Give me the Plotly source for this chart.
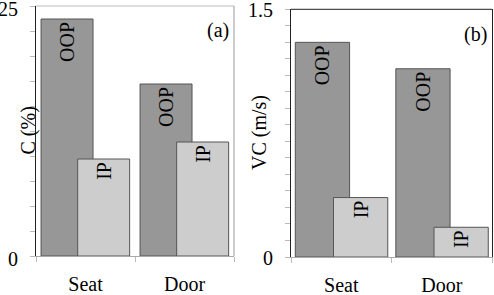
import plotly.graph_objects as go

categories = ["Seat", "Door"]
c_oop = [23.7, 17.2]
c_ip = [9.7, 11.4]
vc_oop = [1.30, 1.14]
vc_ip = [0.36, 0.18]
series_names = ["OOP", "IP"]

FONT = "Liberation Serif, Times New Roman, serif"
OOP_COLOR = "#979797"
IP_COLOR = "#cdcdcd"
EDGE = "#555555"

fig = go.Figure()


def bar_font():
    return dict(family=FONT, size=20, color="black")


def add_bars(xa, ya, oop, ip, w, off_oop, off_ip):
    for vals, name, color, off in ((oop, series_names[0], OOP_COLOR, off_oop),
                                   (ip, series_names[1], IP_COLOR, off_ip)):
        fig.add_trace(go.Bar(
            x=categories, y=vals, name=name, text=[name] * len(vals),
            textposition="inside", insidetextanchor="end", textangle=-90,
            textfont=bar_font(), insidetextfont=bar_font(),
            marker=dict(color=color, line=dict(color=EDGE, width=1)),
            width=w, offset=off, xaxis=xa, yaxis=ya, showlegend=False,
            hoverinfo="skip"))


add_bars("x", "y", c_oop, c_ip, 0.525, -0.449, -0.079)
add_bars("x2", "y2", vc_oop, vc_ip, 0.54, -0.457, -0.077)


def tickfont():
    return dict(family=FONT, size=20, color="black")


def xaxis(domain, anchor):
    return dict(domain=domain, anchor=anchor, type="category", range=[-0.5, 1.5],
                tickson="boundaries", ticks="outside", ticklen=5, tickcolor="#bbbbbb",
                showline=True, linecolor="#aaaaaa", linewidth=1,
                showgrid=False, zeroline=False, tickfont=tickfont(),
                ticklabelstandoff=10, automargin=False, ticklabeloverflow="allow")


def yaxis(domain, anchor, rng, tv, tt, minor_dt, mirror, shift):
    return dict(domain=domain, anchor=anchor, range=rng, tickvals=tv, ticktext=tt,
                ticks="outside", ticklen=5, tickcolor="#bbbbbb",
                minor=dict(dtick=minor_dt, tick0=0, ticks="outside", ticklen=5,
                           tickcolor="#bbbbbb"),
                showline=True, linecolor="#222222", linewidth=1, mirror=mirror,
                showgrid=False, zeroline=False, tickfont=tickfont(),
                ticklabelstandoff=8, ticklabelshift=shift,
                automargin=False, ticklabeloverflow="allow")


fig.update_layout(
    width=494, height=295,
    margin=dict(l=0, r=0, t=0, b=0, autoexpand=False),
    paper_bgcolor="white", plot_bgcolor="white",
    barmode="overlay",
    font=dict(family=FONT, size=20, color="black"),
    xaxis=xaxis([36/494, 234/494], "y"),
    xaxis2=xaxis([291/494, 492/494], "y2"),
    yaxis=yaxis([(295-256)/295, (295-6)/295], "x", [0, 25], [0, 25], ["0", "25"], 2.5, False, 3),
    yaxis2=yaxis([(295-257)/295, (295-9.3)/295], "x2", [0, 1.5], [0, 1.5], ["0", "1.5"], 0.1, True, 1),
)

# frame lines
fig.add_shape(type="line", xref="x domain", yref="y domain", x0=0, x1=1, y0=1, y1=1,
              line=dict(color="#bbbbbb", width=1))
fig.add_shape(type="line", xref="x domain", yref="y domain", x0=1, x1=1, y0=0, y1=1,
              line=dict(color="#999999", width=1))
fig.add_shape(type="line", xref="x2 domain", yref="y2 domain", x0=0, x1=1, y0=1, y1=1,
              line=dict(color="#222222", width=1))

# axis titles and panel labels
fig.add_annotation(text="C (%)", xref="paper", yref="paper", x=14/494, y=(295-131)/295,
                   textangle=-90, showarrow=False, font=dict(family=FONT, size=20))
fig.add_annotation(text="VC (m/s)", xref="paper", yref="paper", x=259/494, y=(295-133)/295,
                   textangle=-90, showarrow=False, font=dict(family=FONT, size=20))
fig.add_annotation(text="(a)", xref="x domain", yref="y domain", x=0.985, y=0.90,
                   xanchor="right", yanchor="middle", showarrow=False,
                   font=dict(family=FONT, size=20))
fig.add_annotation(text="(b)", xref="x2 domain", yref="y2 domain", x=0.985, y=0.90,
                   xanchor="right", yanchor="middle", showarrow=False,
                   font=dict(family=FONT, size=20))

fig.write_html("out.html", config={"displayModeBar": False},
               post_script="document.body.style.margin='0';document.body.style.overflow='hidden';")
